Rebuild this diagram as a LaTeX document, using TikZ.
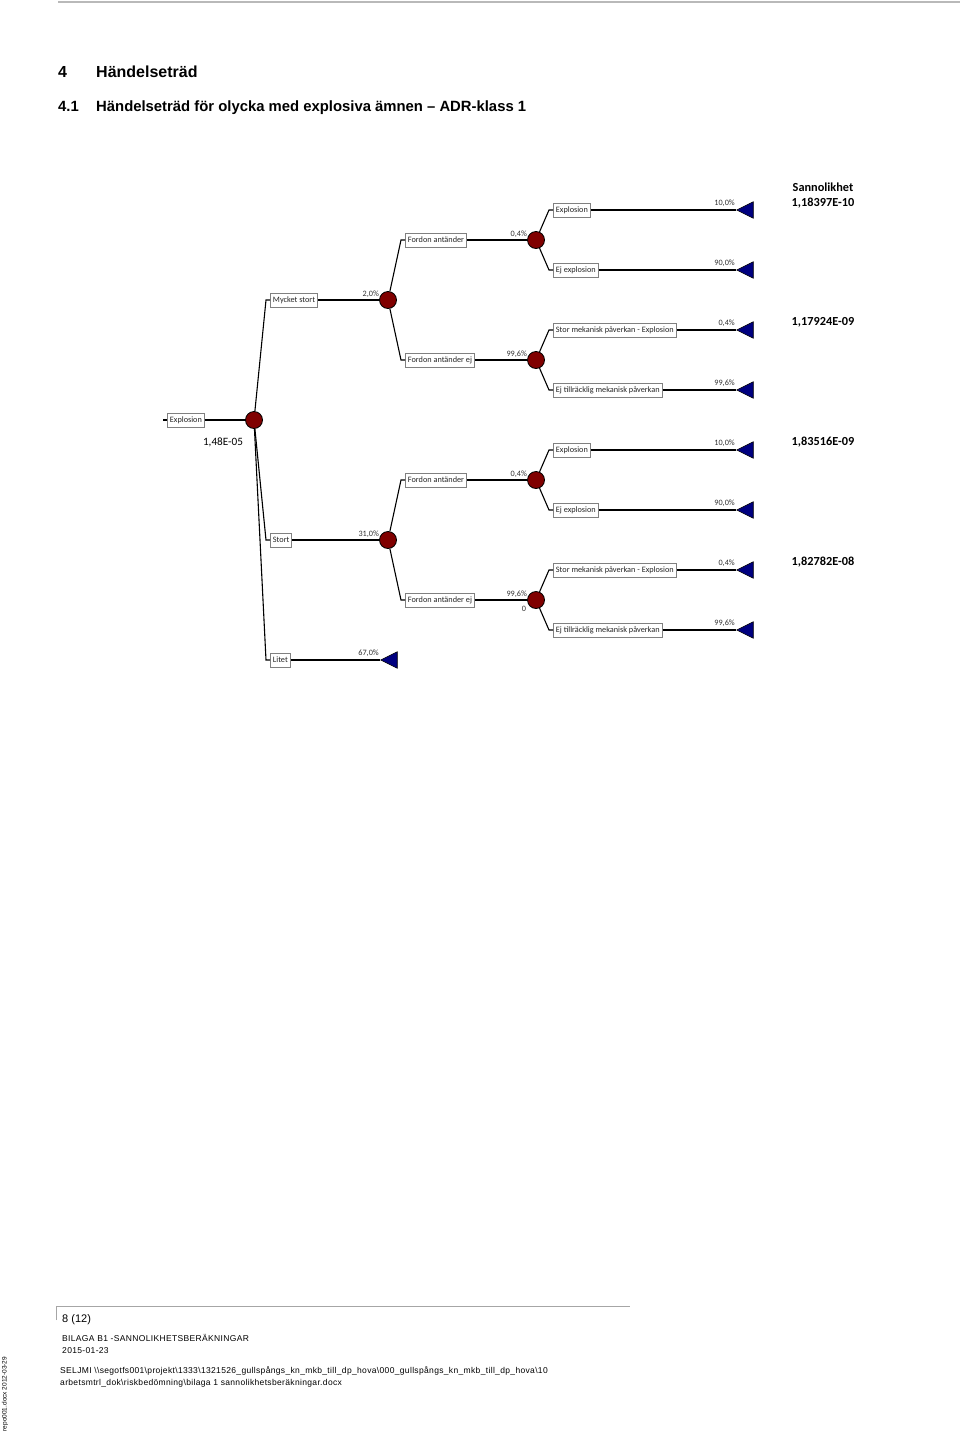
\documentclass[tikz,border=0pt]{standalone}
\usepackage{fontspec}
\setmainfont{Liberation Sans}
\newfontfamily\calfont{Carlito}
\usetikzlibrary{shapes.geometric}
\definecolor{chancered}{RGB}{128,0,0}
\definecolor{endnavy}{RGB}{0,0,128}
\begin{document}
\begin{tikzpicture}[x=1pt,y=-1pt,
  box/.style={draw=gray, fill=white, line width=0.9pt, anchor=west,
    font=\calfont\fontsize{8.25}{9}\selectfont, inner xsep=2.5pt, inner ysep=0pt,
    minimum height=14pt, text=black!85},
  chance/.style={circle, fill=chancered, draw=black, line width=0.8pt,
    minimum size=17pt, inner sep=0pt},
  endtri/.style={isosceles triangle, isosceles triangle stretches,
    shape border rotate=180, minimum width=16.5pt, minimum height=16.5pt,
    inner sep=0pt, fill=endnavy, draw=black, line width=0.6pt, anchor=apex},
  conn/.style={black, line width=1.1pt},
  pct/.style={font=\calfont\fontsize{8.2}{9}\selectfont, inner sep=0pt,
    anchor=south east, text=black!80},
  prob/.style={font=\calfont\bfseries\fontsize{12.3}{14}\selectfont, inner sep=0pt},
  head/.style={anchor=base west, inner sep=0pt},
  foot/.style={anchor=base west, inner sep=0pt,
    font=\addfontfeatures{LetterSpace=4}\fontsize{8.5}{10}\selectfont}
]
\fill[white] (0,0) rectangle (960,1435);
\useasboundingbox (0,0) rectangle (960,1435);

% page rules
\draw[gray!55, line width=2pt] (58,2) -- (960,2);
\draw[gray!70, line width=1pt] (56,1320) -- (56,1306) -- (630,1306);

% headings
\node[head, font=\bfseries\fontsize{16}{19}\selectfont] (h1n) at (58,77) {4};
\node[head, font=\bfseries\fontsize{16}{19}\selectfont] (h1) at (96,77) {Händelseträd};
\node[head, font=\bfseries\fontsize{14.85}{17}\selectfont] (h2n) at (58,111) {4.1};
\node[head, font=\bfseries\fontsize{14.85}{17}\selectfont] (h2) at (96,111) {Händelseträd för olycka med explosiva ämnen – ADR-klass 1};

% tree nodes
\coordinate (in0) at (163,420);
\node[box] (ex0) at (167,420) {Explosion};
\node[chance] (c0) at (254,420) {};

\node[box] (b1) at (270,300) {Mycket stort};
\node[chance] (c1) at (388,300) {};
\node[box] (b11) at (405,240) {Fordon antänder};
\node[chance] (c11) at (536,240) {};
\node[box] (b111) at (553,210) {Explosion};
\node[endtri] (t111) at (736,210) {};
\node[box] (b112) at (553,270) {Ej explosion};
\node[endtri] (t112) at (736,270) {};
\node[box] (b12) at (405,360) {Fordon antänder ej};
\node[chance] (c12) at (536,360) {};
\node[box] (b121) at (553,330) {Stor mekanisk påverkan - Explosion};
\node[endtri] (t121) at (736,330) {};
\node[box] (b122) at (553,390) {Ej tillräcklig mekanisk påverkan};
\node[endtri] (t122) at (736,390) {};

\node[box] (b2) at (270,540) {Stort};
\node[chance] (c2) at (388,540) {};
\node[box] (b21) at (405,480) {Fordon antänder};
\node[chance] (c21) at (536,480) {};
\node[box] (b211) at (553,450) {Explosion};
\node[endtri] (t211) at (736,450) {};
\node[box] (b212) at (553,510) {Ej explosion};
\node[endtri] (t212) at (736,510) {};
\node[box] (b22) at (405,600) {Fordon antänder ej};
\node[chance] (c22) at (536,600) {};
\node[box] (b221) at (553,570) {Stor mekanisk påverkan - Explosion};
\node[endtri] (t221) at (736,570) {};
\node[box] (b222) at (553,630) {Ej tillräcklig mekanisk påverkan};
\node[endtri] (t222) at (736,630) {};

\node[box] (b3) at (270,660) {Litet};
\node[endtri] (t3) at (380,660) {};

% connectors
\draw[conn] (in0) -- (ex0.west);
\draw[conn] (ex0.east) -- (c0);
\foreach \p/\c in {c0/b1, c0/b2, c0/b3, c1/b11, c1/b12, c11/b111, c11/b112,
  c12/b121, c12/b122, c2/b21, c2/b22, c21/b211, c21/b212, c22/b221, c22/b222}
  \draw[conn] (\p) -- ([xshift=-4pt]\c.west) -- (\c.west);
\foreach \b/\n in {b1/c1, b11/c11, b12/c12, b2/c2, b21/c21, b22/c22}
  \draw[conn] (\b.east) -- (\n);
\foreach \b/\n in {b111/t111, b112/t112, b121/t121, b122/t122, b211/t211,
  b212/t212, b221/t221, b222/t222, b3/t3}
  \draw[conn] (\b.east) -- (\n.apex);

% percentages
\foreach \n/\t in {c1/{2,0\%}, c11/{0,4\%}, c12/{99,6\%}, c2/{31,0\%},
  c21/{0,4\%}, c22/{99,6\%}}
  \node[pct] (p-\n) at ([shift={(0pt,2pt)}]\n.west) {\t};
\foreach \n/\t in {t111/{10,0\%}, t112/{90,0\%}, t121/{0,4\%}, t122/{99,6\%},
  t211/{10,0\%}, t212/{90,0\%}, t221/{0,4\%}, t222/{99,6\%}, t3/{67,0\%}}
  \node[pct] (p-\n) at ([shift={(-1pt,3pt)}]\n.apex) {\t};
\node[pct, anchor=center] (zero) at (524,609) {0};

% probabilities
\node[font=\calfont\fontsize{11.2}{13}\selectfont, inner sep=0pt] (rootp) at (223,442) {1,48E-05};
\node[prob] (sann) at (823,187) {Sannolikhet};
\node[prob] (pr1) at (823,203) {1,18397E-10};
\node[prob] (pr2) at (823,322) {1,17924E-09};
\node[prob] (pr3) at (823,442) {1,83516E-09};
\node[prob] (pr4) at (823,562) {1,82782E-08};

% footer
\node[head, font=\fontsize{11}{13}\selectfont] (pg) at (62,1322) {8 (12)};
\node[foot] (f1) at (62,1341) {BILAGA B1 -SANNOLIKHETSBERÄKNINGAR};
\node[foot] (f2) at (62,1353) {2015-01-23};
\node[foot] (f3) at (60,1373) {SELJMI \textbackslash\textbackslash segotfs001\textbackslash projekt\textbackslash 1333\textbackslash 1321526\_gullspångs\_kn\_mkb\_till\_dp\_hova\textbackslash 000\_gullspångs\_kn\_mkb\_till\_dp\_hova\textbackslash 10};
\node[foot] (f4) at (60,1385) {arbetsmtrl\_dok\textbackslash riskbedömning\textbackslash bilaga 1 sannolikhetsberäkningar.docx};
\node[rotate=90, inner sep=0pt, font=\fontsize{6.5}{8}\selectfont] (ver) at (5,1394) {repo001.docx 2012-03-29};
\end{tikzpicture}
\end{document}
